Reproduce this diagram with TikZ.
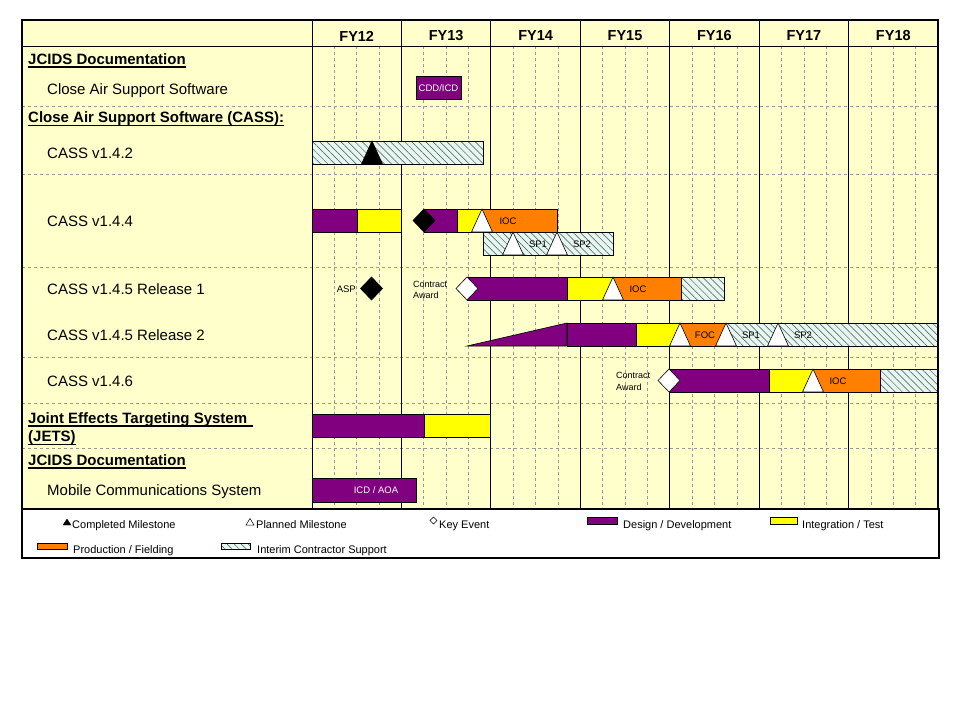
\documentclass[tikz,border=0pt]{standalone}
\usepackage{fontspec}
\setmainfont{Liberation Sans}
\usetikzlibrary{patterns.meta}
\definecolor{chartbg}{RGB}{255,255,204}
\definecolor{devpurple}{RGB}{128,0,128}
\definecolor{testyellow}{RGB}{255,255,0}
\definecolor{fieldorange}{RGB}{255,128,0}
\definecolor{icsbg}{RGB}{232,245,240}
\definecolor{icsline}{RGB}{50,90,80}
\tikzset{
  design/.style={draw, fill=devpurple, line width=.6pt},
  integ/.style={draw, fill=testyellow, line width=.6pt},
  prod/.style={draw, fill=fieldorange, line width=.6pt},
  ics/.style={draw, preaction={fill=icsbg}, line width=.6pt,
    pattern={Lines[angle=-45, distance=5pt, line width=.5pt]}, pattern color=icsline},
  grid/.style={gray!80, dash pattern=on 3pt off 3pt, line width=.6pt},
  yearline/.style={black, line width=.8pt},
  frame/.style={draw, line width=2pt},
  lbl/.style={anchor=base west, inner sep=0, font=\fontsize{15}{18}\selectfont},
  hdr/.style={anchor=base west, inner sep=0, font=\fontsize{15}{18}\selectfont\bfseries},
  uline/.style={line width=1.5pt},
  fy/.style={inner sep=0, font=\fontsize{14.5}{17}\selectfont\bfseries},
  bartxt/.style={inner sep=0, font=\fontsize{9.5}{11}\selectfont},
  evtxt/.style={inner sep=0, anchor=west, align=left, font=\fontsize{9}{11.5}\selectfont},
  legtxt/.style={anchor=base west, inner sep=0, font=\fontsize{11}{13}\selectfont}
}
% milestone triangle: x, top of bar, fill
\newcommand{\milestone}[3]{%
  \filldraw[fill=#3, line width=.6pt] (#1,#2) -- ++(-10.5,23) -- ++(21,0) -- cycle;}
% key event diamond: x, middle of bar, fill
\newcommand{\keyevent}[3]{%
  \filldraw[fill=#3, line width=.6pt] (#1-11,#2) -- (#1,#2-11.5) -- (#1+11,#2) -- (#1,#2+11.5) -- cycle;}

\begin{document}
\begin{tikzpicture}[x=1pt, y=-1pt]
  \useasboundingbox (0,0) rectangle (960,720);
  \fill[white] (0,0) rectangle (960,720);

  % chart area and grid
  \fill[chartbg] (22,20) rectangle (938,509);
  \foreach \y in {106,174,267,357,403,448}
    \draw[grid] (22,\y) -- (938,\y);
  \foreach \i in {0,...,6}
    \foreach \q in {1,2,3}
      \draw[grid] ({312+89.43*(\i+\q/4)},46) -- ({312+89.43*(\i+\q/4)},509);
  \foreach \i in {0,...,6}
    \draw[yearline] ({312+89.43*\i},20) -- ({312+89.43*\i},509);
  \draw[yearline] (22,46) -- (938,46);
  \foreach \fy [count=\i from 0] in {12,...,18}
    \node[fy] (fy\fy) at ({312+89.43*(\i+0.5)},36) {FY\fy};

  % row labels
  \node[hdr] (jcidsa) at (28,64) {JCIDS Documentation};
  \node[lbl] (cas) at (47,94) {Close Air Support Software};
  \node[hdr] (cass) at (28,122) {Close Air Support Software (CASS):};
  \node[lbl] (v142) at (47,158) {CASS v1.4.2};
  \node[lbl] (v144) at (47,226) {CASS v1.4.4};
  \node[lbl] (v145a) at (47,294) {CASS v1.4.5 Release 1};
  \node[lbl] (v145b) at (47,340) {CASS v1.4.5 Release 2};
  \node[lbl] (v146) at (47,386) {CASS v1.4.6};
  \node[hdr] (jets) at (28,423) {Joint Effects Targeting System};
  \node[hdr] (jetsb) at (28,441) {(JETS)};
  \node[hdr] (jcidsb) at (28,465) {JCIDS Documentation};
  \node[lbl] (mcs) at (47,495) {Mobile Communications System};
  \draw[uline] ([yshift=-3pt]jcidsa.base west) -- ([yshift=-3pt]jcidsa.base east);
  \draw[uline] ([yshift=-3.5pt]cass.base west) -- ([yshift=-3.5pt]cass.base east);
  \draw[uline] ([yshift=-3pt]jets.base west) -- ([yshift=-3pt, xshift=6pt]jets.base east);
  \draw[uline] ([yshift=-3.5pt]jetsb.base west) -- ([yshift=-3.5pt]jetsb.base east);
  \draw[uline] ([yshift=-3pt]jcidsb.base west) -- ([yshift=-3pt]jcidsb.base east);

  % JCIDS: Close Air Support Software
  \path[design] (416,76) rectangle (461,99);
  \node[bartxt, text=white] (cddicd) at (438.5,88) {CDD/ICD};

  % CASS v1.4.2
  \path[ics] (312,141) rectangle (483,164);
  \milestone{372}{141}{black}

  % CASS v1.4.4
  \path[design] (312,209) rectangle (357,232);
  \path[integ] (357,209) rectangle (401,232);
  \path[design] (424,209) rectangle (457,232);
  \path[integ] (457,209) rectangle (482,232);
  \path[prod] (482,209) rectangle (557,232);
  \milestone{482}{209}{white}
  \keyevent{424}{220.5}{black}
  \node[bartxt] (ioca) at (508,221) {IOC};
  \path[ics] (483,232) rectangle (613,255);
  \milestone{513}{232}{white}
  \milestone{557}{232}{white}
  \node[bartxt] (spa) at (538,244) {SP1};
  \node[bartxt] (spb) at (582,244) {SP2};

  % CASS v1.4.5 Release 1
  \keyevent{371.5}{288.5}{black}
  \node[bartxt, anchor=east] (asp) at (356,289) {ASP};
  \path[design] (467,277) rectangle (567,300);
  \path[integ] (567,277) rectangle (613,300);
  \path[prod] (613,277) rectangle (681,300);
  \path[ics] (681,277) rectangle (724,300);
  \milestone{613}{277}{white}
  \keyevent{467}{288.5}{white}
  \node[bartxt] (iocb) at (638,289) {IOC};
  \node[evtxt] (awarda) at (413,290) {Contract\\Award};

  % CASS v1.4.5 Release 2
  \filldraw[design] (467,346) -- (567,323) -- (567,346) -- cycle;
  \path[design] (567,323) rectangle (636,346);
  \path[integ] (636,323) rectangle (680,346);
  \path[prod] (680,323) rectangle (726,346);
  \path[ics] (726,323) rectangle (938,346);
  \milestone{680}{323}{white}
  \milestone{726}{323}{white}
  \milestone{778}{323}{white}
  \node[bartxt] (foc) at (705,335) {FOC};
  \node[bartxt] (spc) at (751,335) {SP1};
  \node[bartxt] (spd) at (803,335) {SP2};

  % CASS v1.4.6
  \path[design] (669,369) rectangle (769,392);
  \path[integ] (769,369) rectangle (813,392);
  \path[prod] (813,369) rectangle (880,392);
  \path[ics] (880,369) rectangle (938,392);
  \milestone{813}{369}{white}
  \keyevent{669}{380.5}{white}
  \node[bartxt] (iocc) at (838,381) {IOC};
  \node[evtxt] (awardb) at (616,381.5) {Contract\\Award};

  % JETS
  \path[design] (312,414) rectangle (424,437);
  \path[integ] (424,414) rectangle (490,437);

  % JCIDS: Mobile Communications System
  \path[design] (312,478) rectangle (416,502);
  \node[bartxt, text=white] (icdaoa) at (376,490) {ICD / AOA};

  \draw[frame] (22,20) rectangle (938,509);

  % legend
  \draw[frame] (22,509) rectangle (939,558);
  \filldraw (67,519) -- (71,525) -- (63,525) -- cycle;
  \node[legtxt] (legdone) at (72,528) {Completed Milestone};
  \draw[line width=.5pt] (250,518.5) -- (254,525) -- (246,525) -- cycle;
  \node[legtxt] (legplan) at (256,528) {Planned Milestone};
  \draw[line width=.5pt] (430,520.5) -- (433.5,517) -- (437,520.5) -- (433.5,524) -- cycle;
  \node[legtxt] (legkey) at (439,528) {Key Event};
  \path[design] (587,517) rectangle (617,524);
  \node[legtxt] (legdes) at (623,528) {Design / Development};
  \path[integ] (770,517) rectangle (797,524);
  \node[legtxt] (legint) at (802,528) {Integration / Test};
  \path[prod] (37,543) rectangle (67,549);
  \node[legtxt] (legprod) at (73,553) {Production / Fielding};
  \path[ics] (221,543) rectangle (250,549);
  \node[legtxt] (legics) at (257,553) {Interim Contractor Support};
\end{tikzpicture}
\end{document}
